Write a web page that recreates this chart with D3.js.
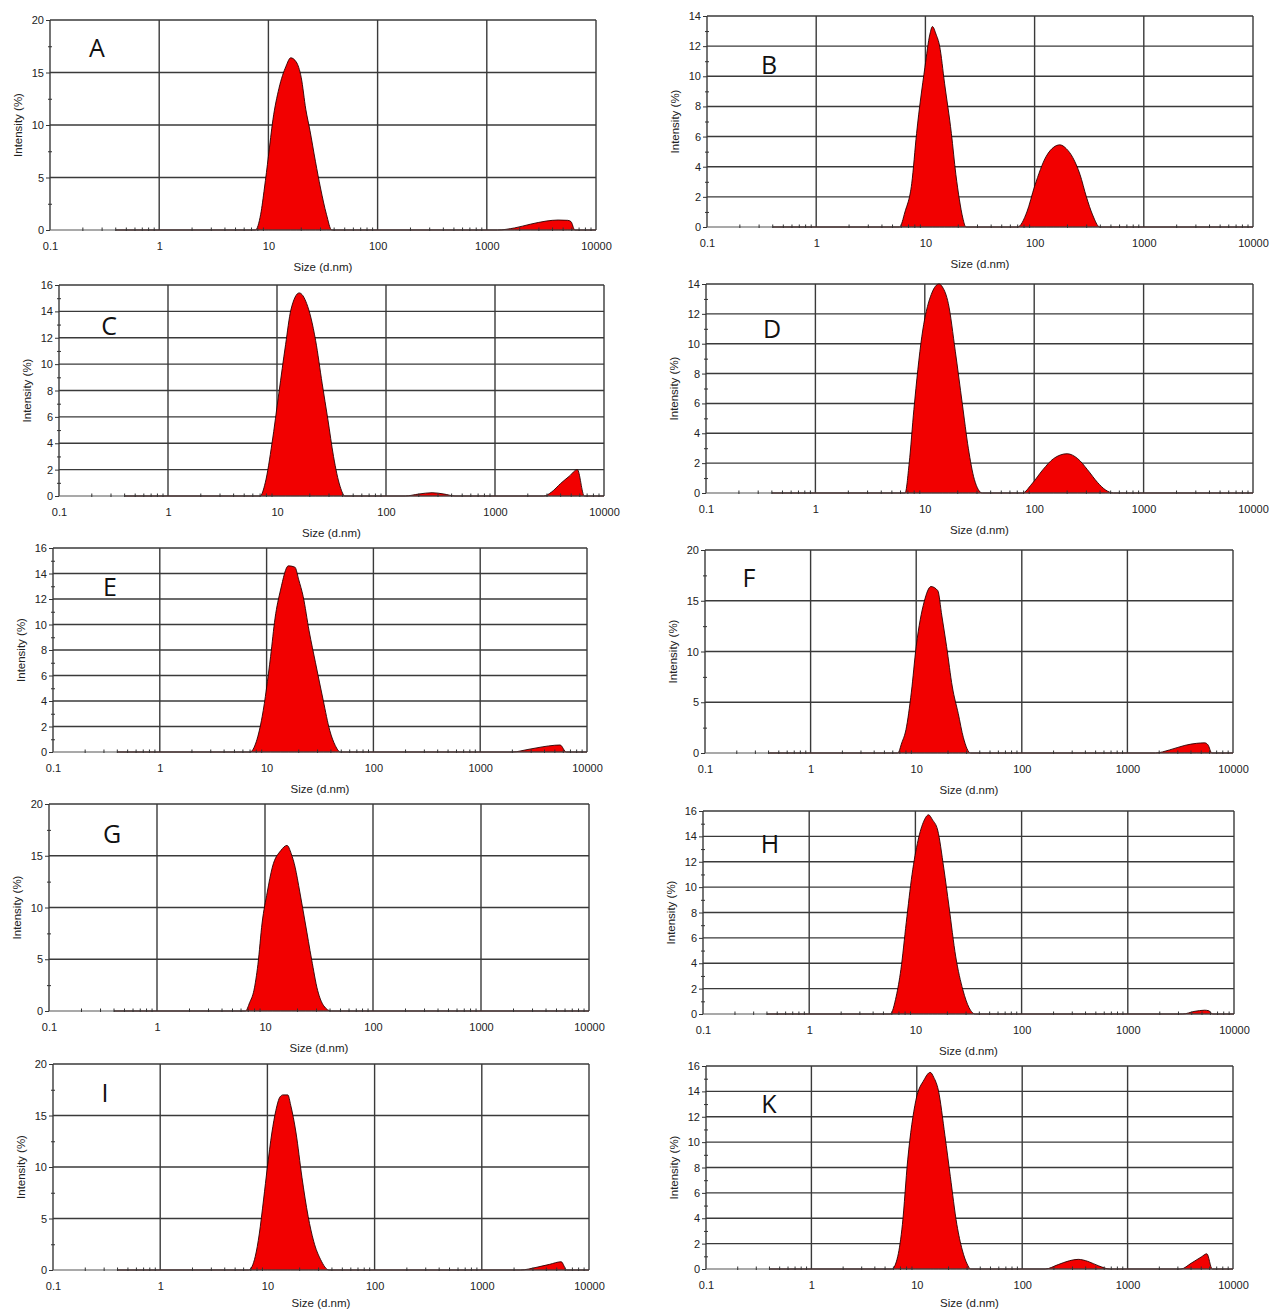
<!DOCTYPE html>
<html>
<head>
<meta charset="UTF-8">
<title>DLS size distributions</title>
<style>
  body { margin: 0; background: #fff; }
  svg { display: block; }
  .tick text { font-family: "Liberation Sans", Arial, sans-serif; font-size: 11px; fill: #222; }
  .axis path { display: none; }
  .axis line { stroke: #333; }
  .title { font-family: "Liberation Sans", Arial, sans-serif; font-size: 11.5px; fill: #222; }
  .letter { font-family: "Open Sans", sans-serif; font-size: 25px; fill: #111; }
</style>
</head>
<body>
<svg width="1271" height="1310"></svg>
<script src="https://d3js.org/d3.v7.min.js"></script>
<script>
// x axis (log, nm)
const xTicks = [0.1, 1, 10, 100, 1000, 10000];
const xTickLabels = ["0.1", "1", "10", "100", "1000", "10000"];
const panelNames = ["A", "B", "C", "D", "E", "F", "G", "H", "I", "K"];
const yMaxes = [20, 14, 16, 14, 16, 20, 20, 16, 20, 16];
const ySteps = [5, 2, 2, 2, 2, 5, 5, 2, 5, 2];

// [size (d.nm), intensity (%)]
const distA = [[0.4,0],[7.6,0],[8.5,1.5],[9.2,4],[10,7],[11,10.5],[12.5,13.5],[14.5,15.6],[16,16.4],[18,16],[20,14.5],[22,11.5],[24,9.5],[27,6.5],[30,4],[34,1.5],[38,0],
  [1250,0],[1800,0.2],[2500,0.55],[3500,0.85],[4500,0.95],[5500,0.92],[5900,0.8],[6400,0],[10000,0]];
const distB = [[0.4,0],[5.8,0],[6.5,1],[7.5,2.9],[8.3,6.2],[9.9,10.6],[11,12.8],[11.6,13.3],[12.5,12.8],[13.5,12],[15,9.5],[17.3,6.2],[19,3.5],[20.5,1.8],[22,0.6],[23.5,0],
  [70,0],[85,1],[100,2.7],[128,4.7],[150,5.3],[170,5.45],[195,5.2],[224,4.6],[260,3.5],[298,2.0],[340,0.8],[395,0],[10000,0]];
const distC = [[0.4,0],[7,0],[7.8,1],[9,4],[10.4,7.8],[12,11.5],[13.4,14.1],[16,15.4],[18.7,14.6],[20.5,13.5],[22.6,11.8],[26,8.5],[29.3,5.8],[33,3],[38,0.7],[42,0],
  [150,0],[200,0.15],[265,0.25],[340,0.15],[430,0],
  [2800,0],[3300,0.3],[4000,0.95],[4800,1.5],[5700,2.0],[6600,0],[10000,0]];
const distD = [[0.4,0],[6.6,0],[7.2,2],[7.95,5.6],[9.4,10.5],[11.6,13.4],[13.5,14],[14.5,13.8],[16.4,12.7],[19,9.5],[22,6],[25,3],[28.4,0.9],[33.5,0],
  [78,0],[95,0.6],[120,1.56],[150,2.3],[200,2.63],[250,2.3],[307,1.56],[380,0.7],[450,0.2],[530,0],[10000,0]];
const distE = [[0.4,0],[7,0],[8,0.8],[9.1,2.8],[10.9,7.5],[12,10.5],[13.5,12.7],[16,14.6],[18.4,14.5],[20,13.5],[22,12.2],[25,9.5],[28.7,7],[34,4],[39,1.7],[44,0.5],[49,0],
  [2000,0],[2800,0.2],[3800,0.4],[5000,0.53],[5600,0.55],[6400,0],[10000,0]];
const distF = [[0.4,0],[6.7,0],[7.3,1],[8,2.3],[9,6],[10,10.5],[11.9,14.9],[13.8,16.4],[16,16],[17.5,13.5],[19.4,10.5],[22,6.5],[25,3.9],[28,1.5],[32.7,0],
  [1850,0],[2500,0.3],[3500,0.75],[4500,0.95],[5400,1.0],[5800,0.8],[6300,0],[10000,0]];
const distG = [[0.4,0],[6.6,0],[7.2,0.8],[7.9,2],[8.6,4.5],[9.4,8.5],[10.5,11.5],[11.7,13.9],[14,15.5],[16,16],[17.5,15.2],[19,13.9],[21,11.5],[23.6,8.5],[27,5],[30.7,2],[35,0.5],[41,0],[10000,0]];
const distH = [[0.4,0],[5.8,0],[6.6,1.4],[7.3,3.5],[8.2,7.2],[9.3,11],[10.6,13.7],[12,15.2],[13.3,15.7],[14.5,15.3],[16.2,14.5],[18.5,11.5],[20.7,8.5],[24,4.5],[28,1.9],[32,0.5],[36.6,0],
  [3300,0],[4200,0.2],[5300,0.3],[5800,0.25],[6300,0],[10000,0]];
const distI = [[0.4,0],[6.7,0],[7.7,1.3],[8.4,3.5],[9.2,6.8],[10,10],[11,13.3],[12,15.5],[13.1,16.8],[14,17],[15.5,17],[16.5,16],[18.5,13.3],[21,9],[24,5.2],[27,2.8],[31.4,1],[37.5,0],
  [2300,0],[3200,0.25],[4300,0.55],[5500,0.8],[6200,0],[10000,0]];
const distK = [[0.4,0],[5.8,0],[6.6,1],[7.3,3.5],[8.2,8.6],[9.8,13.3],[11.7,14.9],[13.4,15.5],[14.5,15.1],[16,14.1],[18.5,10.5],[20.8,7.3],[24,3.5],[27,1.5],[30,0.4],[32.4,0],
  [165,0],[220,0.35],[280,0.65],[340,0.76],[420,0.6],[530,0.25],[680,0],
  [3200,0],[4000,0.45],[5000,0.95],[5650,1.2],[6350,0],[10000,0]];
const dists = [distA, distB, distC, distD, distE, distF, distG, distH, distI, distK];

// plot frames: left, right, top, bottom, letter x / baseline
const frames = [
  {l: 50,  r: 596,  t: 20,   b: 230,  lx: 97,  ly: 57},
  {l: 707, r: 1253, t: 16,   b: 227,  lx: 769, ly: 74},
  {l: 59,  r: 604,  t: 285,  b: 496,  lx: 109, ly: 335},
  {l: 706, r: 1253, t: 284,  b: 493,  lx: 772, ly: 338},
  {l: 53,  r: 587,  t: 548,  b: 752,  lx: 110, ly: 596},
  {l: 705, r: 1233, t: 550,  b: 753,  lx: 749, ly: 587},
  {l: 49,  r: 589,  t: 804,  b: 1011, lx: 112, ly: 843},
  {l: 703, r: 1234, t: 811,  b: 1014, lx: 770, ly: 853},
  {l: 53,  r: 589,  t: 1064, b: 1270, lx: 105, ly: 1102},
  {l: 706, r: 1233, t: 1066, b: 1269, lx: 769, ly: 1113}
];

const svg = d3.select("svg");

panelNames.forEach((name, i) => {
  const f = frames[i];
  const yMax = yMaxes[i], step = ySteps[i];
  const x = d3.scaleLog().domain([0.1, 10000]).range([f.l, f.r]);
  const y = d3.scaleLinear().domain([0, yMax]).range([f.b, f.t]);
  const g = svg.append("g");

  const major = d3.range(0, yMax + 0.001, step);
  const minor = d3.range(step / 2, yMax, step);
  const xMinor = [];
  xTicks.slice(0, -1).forEach(d => { for (let k = 2; k < 10; k++) xMinor.push(d * k); });

  // grid
  g.append("g").selectAll("line").data(major.slice(1)).join("line")
    .attr("x1", f.l).attr("x2", f.r).attr("y1", d => y(d)).attr("y2", d => y(d))
    .attr("stroke", "#3a3a3a").attr("stroke-width", 1.4);
  g.append("g").selectAll("line").data(xTicks.slice(1)).join("line")
    .attr("x1", d => x(d)).attr("x2", d => x(d)).attr("y1", f.t).attr("y2", f.b)
    .attr("stroke", "#3a3a3a").attr("stroke-width", 1.4);

  // distribution
  const area = d3.area()
    .x(d => x(d[0])).y0(y(0)).y1(d => y(d[1]))
    .curve(d3.curveMonotoneX);
  g.append("path").datum(dists[i])
    .attr("d", area)
    .attr("fill", "#f20000")
    .attr("stroke", "#2a0000").attr("stroke-width", 0.9).attr("stroke-linejoin", "round");

  // frame
  g.append("line").attr("x1", f.l).attr("x2", f.l).attr("y1", f.t).attr("y2", f.b)
    .attr("stroke", "#3a3a3a").attr("stroke-width", 1.4);
  g.append("line").attr("x1", f.l).attr("x2", f.r).attr("y1", f.b).attr("y2", f.b)
    .attr("stroke", "#555").attr("stroke-width", 1.2);

  // minor x ticks
  g.append("g").selectAll("line").data(xMinor).join("line")
    .attr("x1", d => x(d)).attr("x2", d => x(d)).attr("y1", f.b - 2.5).attr("y2", f.b + 1)
    .attr("stroke", "#333").attr("stroke-width", 1);

  // y axis
  g.append("g").attr("class", "axis").attr("transform", `translate(${f.l},0)`)
    .call(d3.axisLeft(y).tickValues(major).tickSize(4).tickPadding(2).tickFormat(d3.format("d")));
  g.append("g").attr("class", "axis").attr("transform", `translate(${f.l + 2},0)`)
    .call(d3.axisLeft(y).tickValues(minor).tickSize(4).tickFormat(""));

  // x axis labels
  g.append("g").attr("class", "axis").attr("transform", `translate(0,${f.b})`)
    .call(d3.axisBottom(x).tickValues(xTicks).tickSize(0).tickPadding(12)
      .tickFormat((d, k) => xTickLabels[k]));

  // titles
  g.append("text").attr("class", "title")
    .attr("x", (f.l + f.r) / 2).attr("y", Math.min(f.b + 41, 1307)).attr("text-anchor", "middle")
    .text("Size (d.nm)");
  g.append("text").attr("class", "title")
    .attr("transform", `translate(${f.l - 28},${(f.t + f.b) / 2}) rotate(-90)`)
    .attr("text-anchor", "middle")
    .text("Intensity (%)");

  g.append("text").attr("class", "letter")
    .attr("x", f.lx).attr("y", f.ly).attr("text-anchor", "middle")
    .text(name);
});
</script>
</body>
</html>
